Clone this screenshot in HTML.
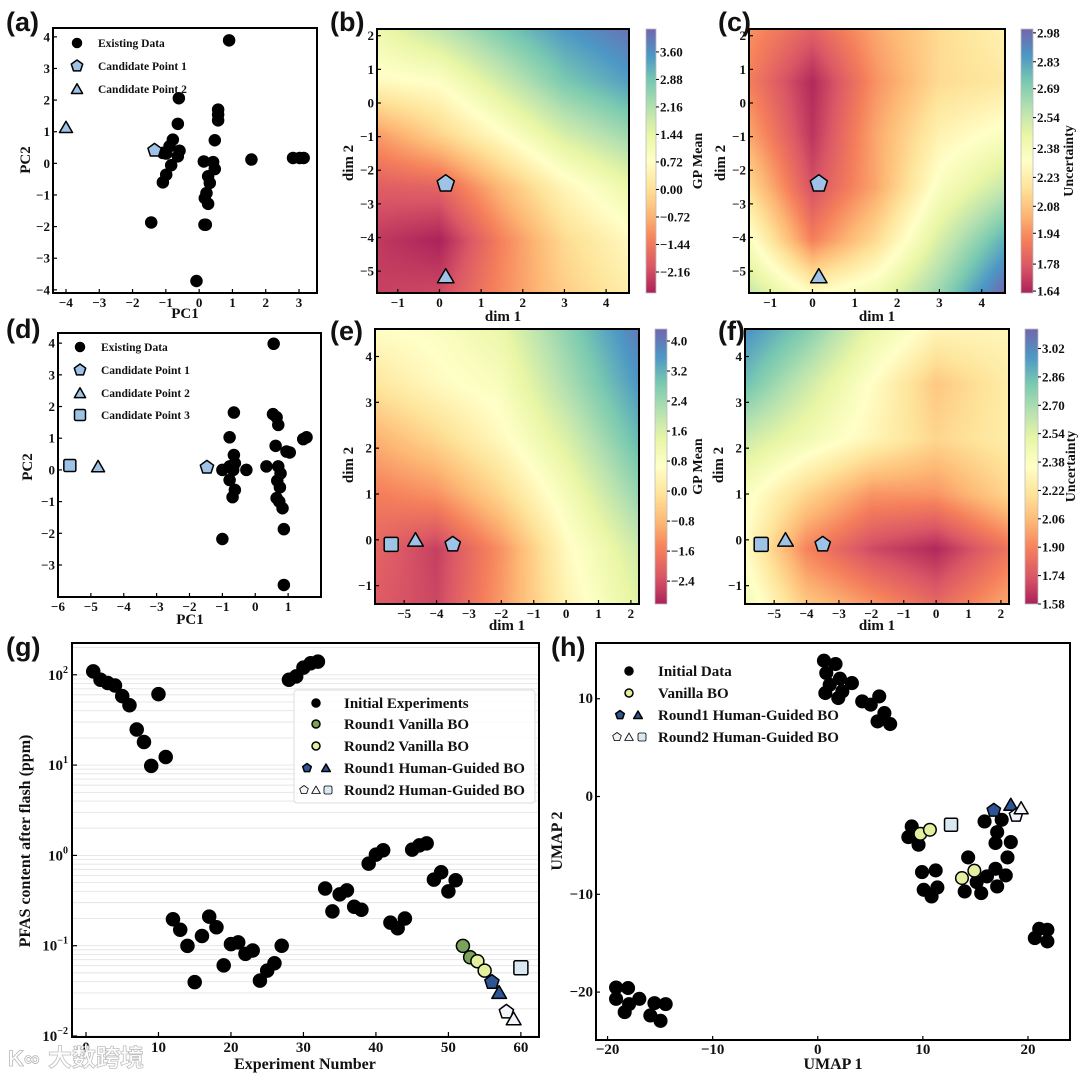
<!DOCTYPE html>
<html><head><meta charset="utf-8">
<style>
body{margin:0;background:#fff;width:1080px;height:1077px;overflow:hidden;position:relative}
canvas{position:absolute}
#fig{position:absolute;left:0;top:0}
text{font-family:"Liberation Serif",serif;font-weight:bold;fill:#111}
</style></head>
<body>
<svg id="fig" width="1080" height="1077"></svg>
<script>
// ---------- DATA ----------
const aPC1=[0.90,-0.61,-0.64,0.57,0.57,0.57,-0.79,-0.89,-0.59,-1.09,-0.99,-0.64,-0.84,-0.99,-1.09,-1.44,0.14,0.42,0.47,0.27,0.32,0.22,0.17,0.27,0.16,0.20,-0.08,0.47,1.57,2.82,3.02,3.14];
const aPC2=[3.89,2.06,1.25,1.70,1.54,1.36,0.75,0.54,0.40,0.33,0.31,0.22,-0.06,-0.36,-0.60,-1.87,0.06,0.04,-0.18,-0.41,-0.62,-0.94,-1.10,-1.28,-1.94,-1.94,-3.72,0.73,0.12,0.17,0.17,0.17];
const aCand1=[-1.34,0.41];
const aCand2=[-4.0,1.14];
const dPC1=[0.56,-0.65,-0.78,-0.65,-0.62,-0.78,-1.0,-0.67,-0.27,-0.78,-0.62,-0.69,0.34,0.54,0.65,0.70,0.62,0.70,0.77,0.67,0.75,0.65,0.73,0.83,0.87,0.87,-1.0,0.95,1.05,1.46,1.56];
const dPC2=[3.98,1.81,1.03,0.47,0.21,0.11,0,0,0,-0.32,-0.63,-0.86,0.11,1.76,1.66,1.42,0.76,0.11,-0.11,-0.34,-0.55,-0.89,-1.0,-1.21,-1.87,-3.63,-2.18,0.58,0.55,0.97,1.03];
const dCand1=[-1.47,0.08];
const dCand2=[-4.78,0.11];
const dCand3=[-5.64,0.14];
// heatmap grids
const bcGX=[-1.5,0,1.5,3,4.55];
const bcGY=[2.2,0.63,-0.94,-2.51,-4.08,-5.65];
const bMean=[[1.3,2.0,2.8,3.5,4.0],[0.6,0.8,1.8,2.8,3.4],[-1.0,-0.2,0.7,1.7,2.4],[-1.9,-1.8,-0.6,0.5,1.3],[-2.4,-2.7,-1.3,-0.1,0.6],[-2.3,-2.2,-1.2,-0.3,0.3]];
const cUnc=[[1.95,1.8,2.0,2.15,2.25],[1.9,1.65,1.95,2.15,2.2],[2.0,1.68,2.0,2.25,2.35],[2.15,1.75,2.0,2.35,2.55],[2.35,1.9,2.15,2.5,2.8],[2.55,2.3,2.4,2.65,3.0]];
const bcCand=[[0.15,-2.4],[0.15,-5.15]];
const efGX=[-5.9,-4,-2,0,2.25];
const efGY=[4.6,3.4,2.2,1.0,-0.2,-1.4];
const eMean=[[0.6,0.8,1.3,2.6,4.0],[0.0,0.5,0.9,2.2,3.6],[-0.9,-0.3,0.5,1.6,3.1],[-1.6,-1.3,-0.3,1.0,2.5],[-2.0,-2.6,-1.3,0.5,1.8],[-2.2,-2.5,-1.2,0.3,1.5]];
const fUnc=[[3.0,2.8,2.5,2.3,2.3],[2.85,2.6,2.35,2.1,2.25],[2.6,2.45,2.3,2.15,2.25],[2.4,2.15,1.95,1.95,2.15],[2.35,1.9,1.7,1.6,1.85],[2.45,2.1,1.95,1.8,2.0]];
const efCand=[[-3.5,-0.1],[-4.65,0.0],[-5.4,-0.1]];
const bTicks=[-2.16,-1.44,-0.72,0.00,0.72,1.44,2.16,2.88,3.60];
const cTicks=[1.64,1.78,1.94,2.08,2.23,2.38,2.54,2.69,2.83,2.98];
const eTicks=[-2.4,-1.6,-0.8,0.0,0.8,1.6,2.4,3.2,4.0];
const fTicks=[1.58,1.74,1.90,2.06,2.22,2.38,2.54,2.70,2.86,3.02];
// panel g
const gInitVal=[109,88,81,76,58,46,24.8,18,9.8,61,12.3,0.196,0.15,0.0995,0.0395,0.128,0.21,0.16,0.0605,0.104,0.109,0.0812,0.0886,0.041,0.053,0.064,0.1,88,96,120,134,140,0.43,0.24,0.37,0.41,0.27,0.25,0.81,1.02,1.14,0.18,0.156,0.2,1.16,1.29,1.36,0.54,0.65,0.4,0.53];
const gR1VanX=[52,53], gR1VanY=[0.0995,0.0745];
const gR2VanX=[54,55], gR2VanY=[0.0673,0.053];
const gR1HG=[[56,0.0395],[57,0.0304]];
const gR2HG=[[58,0.0185],[59,0.0155],[60,0.057]];
// panel h
const hX=[0.59,1.69,0.81,1.14,0.72,2.11,2.34,1.95,3.25,4.23,5.04,5.85,6.34,5.69,6.89,-19.19,-19.19,-18.05,-18.37,-17.95,-16.98,-15.93,-15.54,-14.96,-14.47,21.07,20.65,21.85,21.85,8.94,8.62,9.59,9.92,11.22,10.08,10.83,11.38,15.87,17.50,17.07,16.91,18.37,14.31,18.05,16.91,17.89,16.10,15.12,13.98,15.55,17.07];
const hY=[13.89,13.55,12.63,11.43,10.58,12.05,10.75,10.07,11.6,9.73,9.39,10.24,8.53,7.68,7.41,-19.53,-20.69,-19.59,-22.05,-21.23,-20.69,-22.39,-21.13,-22.94,-21.23,-13.53,-14.48,-13.63,-14.82,-3.06,-4.15,-4.93,-7.73,-7.56,-9.54,-10.22,-9.3,-2.55,-2.38,-3.64,-4.76,-4.66,-6.23,-6.23,-7.39,-8.07,-8.17,-8.75,-9.71,-9.88,-9.2];
const hVanX=[9.76,10.67,13.72,14.9], hVanY=[-3.81,-3.4,-8.34,-7.59];
const hR1=[[16.75,-1.42],[18.37,-0.84]];
const hR2=[[18.86,-1.93],[19.35,-1.18],[12.68,-2.89]];

// ---------- HELPERS ----------
const NS='http://www.w3.org/2000/svg';
const svg=document.getElementById('fig');
function add(tag,attrs,name,parent){
  const e=document.createElementNS(NS,tag);
  for(const k in attrs) e.setAttribute(k,attrs[k]);
  
  
  (parent||svg).appendChild(e);return e;
}
function txt(x,y,s,size,name,anchor,extra){
  const t=add('text',Object.assign({x:x,y:y,'font-size':size,'text-anchor':anchor||'middle'},extra||{}),name);
  t.textContent=s;return t;
}
function lin(d0,d1,r0,r1){return v=>r0+(v-d0)*(r1-r0)/(d1-d0);}
function fmt(v,d){const s=Math.abs(v).toFixed(d);return (v<0?'\u2212':'')+s;}
function panel(L,R,T,B,x0,x1,y0,y1){return {L,R,T,B,x0,x1,y0,y1,sx:lin(x0,x1,L,R),sy:lin(y0,y1,B,T)};}
function marker(shape,cx,cy,r,fill,name,sw){
  sw=sw||1.5;
  if(shape==='circle') return add('circle',{cx:cx,cy:cy,r:r,fill:fill,stroke:'#000','stroke-width':sw},name);
  if(shape==='square') return add('rect',{x:cx-r,y:cy-r,width:2*r,height:2*r,rx:1.5,fill:fill,stroke:'#000','stroke-width':sw},name);
  let n=shape==='pentagon'?5:3, pts=[], oy=shape==='triangle'?r*0.2:0;
  for(let k=0;k<n;k++){const a=-Math.PI/2+k*2*Math.PI/n;pts.push((cx+r*Math.cos(a)).toFixed(1)+','+(cy+oy+r*Math.sin(a)).toFixed(1));}
  return add('polygon',{points:pts.join(' '),fill:fill,stroke:'#000','stroke-width':sw,'stroke-linejoin':'round'},name);
}
function frame(p,name){add('rect',{x:p.L,y:p.T,width:p.R-p.L,height:p.B-p.T,fill:'none',stroke:'#000','stroke-width':2},name);}
function axes(p,xt,yt,fs,xd,yd,key){
  xt.forEach(v=>{const x=p.sx(v);
    add('line',{x1:x,x2:x,y1:p.B,y2:p.B-4,stroke:'#000','stroke-width':1.2},key+'-x-tick');
    txt(x,p.B+14,fmt(v,xd),fs,key+'-x-tick-label');});
  yt.forEach(v=>{const y=p.sy(v);
    add('line',{x1:p.L,x2:p.L+4,y1:y,y2:y,stroke:'#000','stroke-width':1.2},key+'-y-tick');
    txt(p.L-3,y+4.5,fmt(v,yd),fs,key+'-y-tick-label','end');});
}
function vlabel(x,y,s,size,name){txt(x,y,s,size,name,'middle',{transform:'rotate(-90 '+x+' '+y+')'});}
function plabel(x,y,s,name){txt(x,y,s,27,name,'start',{style:'font-family:"Liberation Sans",sans-serif'});}

const STOPS=[[158,1,66],[213,62,79],[244,109,67],[253,174,97],[254,224,139],[255,255,191],[230,245,152],[171,221,164],[102,194,165],[50,136,189],[94,79,162]];
function cmap(t){
  t=Math.max(0,Math.min(1,t));const f=t*10,i=Math.min(9,Math.floor(f)),u=f-i;
  const a=STOPS[i],b=STOPS[i+1],al=0.87;
  return [0,1,2].map(k=>Math.round(al*(a[k]+(b[k]-a[k])*u)+(1-al)*255));
}
function bil(gx,gy,Z,x,y){
  let i=0;while(i<gx.length-2&&x>gx[i+1])i++;
  let j=0;while(j<gy.length-2&&y<gy[j+1])j++;
  let u=(x-gx[i])/(gx[i+1]-gx[i]),w=(gy[j]-y)/(gy[j]-gy[j+1]);
  u=Math.max(0,Math.min(1,u));w=Math.max(0,Math.min(1,w));
  return Z[j][i]*(1-u)*(1-w)+Z[j][i+1]*u*(1-w)+Z[j+1][i]*(1-u)*w+Z[j+1][i+1]*u*w;
}
function heat(p,gx,gy,Z,vmin,vmax,name){
  const c=document.createElement('canvas');const w=p.R-p.L,h=p.B-p.T;
  c.width=w;c.height=h;c.style.left=p.L+'px';c.style.top=p.T+'px';
  
  
  document.body.insertBefore(c,svg);
  const ctx=c.getContext('2d'),im=ctx.createImageData(w,h);
  for(let py=0;py<h;py++)for(let px=0;px<w;px++){
    const x=p.x0+(px+0.5)/w*(p.x1-p.x0),y=p.y1-(py+0.5)/h*(p.y1-p.y0);
    const col=cmap((bil(gx,gy,Z,x,y)-vmin)/(vmax-vmin));const o=(py*w+px)*4;
    im.data[o]=col[0];im.data[o+1]=col[1];im.data[o+2]=col[2];im.data[o+3]=255;}
  ctx.putImageData(im,0,0);
}
function cbar(L,R,T,B,vmin,vmax,ticks,dec,label,lx,key){
  const c=document.createElement('canvas');const w=R-L,h=B-T;
  c.width=w;c.height=h;c.style.left=L+'px';c.style.top=T+'px';
  
  
  document.body.insertBefore(c,svg);
  const ctx=c.getContext('2d');
  for(let y=0;y<h;y++){const col=cmap(1-(y+0.5)/h);ctx.fillStyle='rgb('+col.join(',')+')';ctx.fillRect(0,y,w,1);}
  add('rect',{x:L,y:T,width:w,height:h,fill:'none',stroke:'#bbb','stroke-width':0.8},key+'-colorbar-border');
  const sy=lin(vmin,vmax,B,T);
  ticks.forEach(v=>{const y=sy(v);
    add('line',{x1:R,x2:R+3,y1:y,y2:y,stroke:'#000','stroke-width':1},key+'-colorbar-tick');
    txt(R+4,y+4.5,fmt(v,dec),13,key+'-colorbar-tick-label','start');});
  vlabel(lx,(T+B)/2,label,14,key+'-colorbar-title');
}
function range(a,b,s){const r=[];for(let v=a;v<=b+1e-9;v+=s)r.push(Math.round(v*100)/100);return r;}

// ---------- PANEL A ----------
const pa=panel(53,317,28,293,-4.39,3.54,-4.1,4.28);
plabel(6,31,'(a)','panel-label-a');
frame(pa,'panel-a-frame');
axes(pa,range(-4,3,1),range(-4,4,1),13,0,0,'panel-a');
txt(185,318,'PC1',15,'panel-a-x-axis-title');vlabel(30,160,'PC2',15,'panel-a-y-axis-title');
aPC1.forEach((v,i)=>marker('circle',pa.sx(v),pa.sy(aPC2[i]),5.5,'#000','existing-data-point'));
marker('pentagon',pa.sx(aCand1[0]),pa.sy(aCand1[1]),7,'#9fc3e6','candidate-point-1');
marker('triangle',pa.sx(aCand2[0]),pa.sy(aCand2[1]),7.5,'#9fc3e6','candidate-point-2');
marker('circle',77,43,4.5,'#000','legend-existing-marker');txt(98,47,'Existing Data',11.5,'legend-existing-label','start');
marker('pentagon',77,66,6,'#9fc3e6','legend-cand1-marker');txt(98,70,'Candidate Point 1',11.5,'legend-cand1-label','start');
marker('triangle',77,89,6.5,'#9fc3e6','legend-cand2-marker');txt(98,93,'Candidate Point 2',11.5,'legend-cand2-label','start');

// ---------- PANEL B / C ----------
const pb=panel(377,629,29,293,-1.5,4.55,-5.65,2.2);
const pc=panel(749,1005,29,293,-1.5,4.55,-5.65,2.2);
heat(pb,bcGX,bcGY,bMean,-2.71,4.2,'gp-mean-heatmap-b');
heat(pc,bcGX,bcGY,cUnc,1.63,3.0,'uncertainty-heatmap-c');
plabel(330,31,'(b)','panel-label-b');plabel(718,31,'(c)','panel-label-c');
[[pb,'panel-b'],[pc,'panel-c']].forEach(([p,k])=>{
  frame(p,k+'-frame');axes(p,range(-1,4,1),range(-5,2,1),13,0,0,k);
  txt((p.L+p.R)/2,321,'dim 1',15,k+'-x-axis-title');vlabel(p.L-24,163,'dim 2',15,k+'-y-axis-title');
  marker('pentagon',p.sx(bcCand[0][0]),p.sy(bcCand[0][1]),9,'#9fc3e6',k+'-candidate-1');
  marker('triangle',p.sx(bcCand[1][0]),p.sy(bcCand[1][1]),9.5,'#9fc3e6',k+'-candidate-2');
});
cbar(646,656,29,293,-2.71,4.2,bTicks,2,'GP Mean',702,'panel-b');
cbar(1021,1033,29,293,1.63,3.0,cTicks,2,'Uncertainty',1073,'panel-c');

// ---------- PANEL D ----------
const pd=panel(58,321,333,597,-6,2.0,-4.01,4.32);
plabel(6,338,'(d)','panel-label-d');
frame(pd,'panel-d-frame');
axes(pd,range(-6,1,1),range(-3,4,1),13,0,0,'panel-d');
txt(190,624,'PC1',15,'panel-d-x-axis-title');vlabel(32,467,'PC2',15,'panel-d-y-axis-title');
dPC1.forEach((v,i)=>marker('circle',pd.sx(v),pd.sy(dPC2[i]),5.5,'#000','existing-data-point'));
marker('pentagon',pd.sx(dCand1[0]),pd.sy(dCand1[1]),7,'#9fc3e6','candidate-point-1');
marker('triangle',pd.sx(dCand2[0]),pd.sy(dCand2[1]),7.5,'#9fc3e6','candidate-point-2');
marker('square',pd.sx(dCand3[0]),pd.sy(dCand3[1]),6,'#9fc3e6','candidate-point-3');
marker('circle',80,347,4.5,'#000','legend-existing-marker');txt(101,351,'Existing Data',11.5,'legend-existing-label','start');
marker('pentagon',80,370,6,'#9fc3e6','legend-cand1-marker');txt(101,374,'Candidate Point 1',11.5,'legend-cand1-label','start');
marker('triangle',80,393,6.5,'#9fc3e6','legend-cand2-marker');txt(101,397,'Candidate Point 2',11.5,'legend-cand2-label','start');
marker('square',80,415,5.5,'#9fc3e6','legend-cand3-marker');txt(101,419,'Candidate Point 3',11.5,'legend-cand3-label','start');

// ---------- PANEL E / F ----------
const pe=panel(375,639,329,604,-5.9,2.25,-1.4,4.6);
const pf=panel(745,1009,329,604,-5.9,2.25,-1.4,4.6);
heat(pe,efGX,efGY,eMean,-3.01,4.32,'gp-mean-heatmap-e');
heat(pf,efGX,efGY,fUnc,1.58,3.13,'uncertainty-heatmap-f');
plabel(330,340,'(e)','panel-label-e');plabel(718,340,'(f)','panel-label-f');
[[pe,'panel-e'],[pf,'panel-f']].forEach(([p,k])=>{
  frame(p,k+'-frame');axes(p,range(-5,2,1),range(-1,4,1),13,0,0,k);
  txt((p.L+p.R)/2,630,'dim 1',15,k+'-x-axis-title');vlabel(p.L-22,465,'dim 2',15,k+'-y-axis-title');
  marker('pentagon',p.sx(efCand[0][0]),p.sy(efCand[0][1]),8,'#9fc3e6',k+'-candidate-1');
  marker('triangle',p.sx(efCand[1][0]),p.sy(efCand[1][1]),9,'#9fc3e6',k+'-candidate-2');
  marker('square',p.sx(efCand[2][0]),p.sy(efCand[2][1]),7,'#9fc3e6',k+'-candidate-3');
});
cbar(655,667,329,604,-3.01,4.32,eTicks,1,'GP Mean',702,'panel-e');
cbar(1025,1038,329,604,1.58,3.13,fTicks,2,'Uncertainty',1075,'panel-f');

// ---------- PANEL G ----------
const pg={L:72,R:539,T:643,B:1037};
const gx=lin(-1.93,62.5,pg.L,pg.R);
const lmin=Math.log10(0.00975),lmax=2.352;
const gy=v=>pg.B-(Math.log10(v)-lmin)/(lmax-lmin)*(pg.B-pg.T);
plabel(6,656,'(g)','panel-label-g');
for(let d=-2;d<=2;d++)for(let m=1;m<=9;m++){const v=m*Math.pow(10,d);if(v>0.00975&&v<Math.pow(10,lmax)){
  add('line',{x1:pg.L,x2:pg.R,y1:gy(v),y2:gy(v),stroke:'#e4e4e4','stroke-width':0.9},'panel-g-gridline');}}
add('rect',{x:pg.L,y:pg.T,width:pg.R-pg.L,height:pg.B-pg.T,fill:'none',stroke:'#000','stroke-width':2},'panel-g-frame');
range(0,60,10).forEach(v=>{const x=gx(v);
  add('line',{x1:x,x2:x,y1:pg.B,y2:pg.B-5,stroke:'#000','stroke-width':1.2},'panel-g-x-tick');
  txt(x,pg.B+15,String(v),15,'panel-g-x-tick-label');});
['\u22122','\u22121','0','1','2'].forEach((e,i)=>{const y=gy(Math.pow(10,i-2));
  add('line',{x1:pg.L,x2:pg.L+5,y1:y,y2:y,stroke:'#000','stroke-width':1.2},'panel-g-y-tick');
  const t=txt(pg.L-4,y+5,'10',15,'panel-g-y-tick-label','end');
  const s=document.createElementNS(NS,'tspan');s.setAttribute('dy','-7');s.setAttribute('font-size','10');s.textContent=e;t.appendChild(s);});
txt(305,1069,'Experiment Number',16,'panel-g-x-axis-title');
vlabel(30,841,'PFAS content after flash (ppm)',16,'panel-g-y-axis-title');
gInitVal.forEach((v,i)=>marker('circle',gx(i+1),gy(v),6.5,'#000','initial-experiment-point'));
gR1VanX.forEach((x,i)=>marker('circle',gx(x),gy(gR1VanY[i]),6.5,'#7aa35a','round1-vanilla-point'));
gR2VanX.forEach((x,i)=>marker('circle',gx(x),gy(gR2VanY[i]),6.5,'#e4ef9f','round2-vanilla-point'));
marker('pentagon',gx(gR1HG[0][0]),gy(gR1HG[0][1]),7.5,'#2d5596','round1-hg-pentagon');
marker('triangle',gx(gR1HG[1][0]),gy(gR1HG[1][1]),8.5,'#2d5596','round1-hg-triangle');
marker('pentagon',gx(gR2HG[0][0]),gy(gR2HG[0][1]),7.5,'#f2f5fa','round2-hg-pentagon');
marker('triangle',gx(gR2HG[1][0]),gy(gR2HG[1][1]),8.5,'#f2f5fa','round2-hg-triangle');
marker('square',gx(gR2HG[2][0]),gy(gR2HG[2][1]),7,'#d8e9f2','round2-hg-square');
add('rect',{x:294,y:690,width:241,height:113,rx:3,fill:'#fff','fill-opacity':0.85,stroke:'#ddd','stroke-width':1},'panel-g-legend-box');
marker('circle',316,703,4,'#000','legend-initial-marker',0);txt(344,708,'Initial Experiments',15,'legend-initial-label','start');
marker('circle',316,724,4,'#7aa35a','legend-r1-vanilla-marker',0);txt(344,729,'Round1 Vanilla BO',15,'legend-r1-vanilla-label','start');
marker('circle',316,746,4,'#e4ef9f','legend-r2-vanilla-marker',0);txt(344,751,'Round2 Vanilla BO',15,'legend-r2-vanilla-label','start');
marker('pentagon',307,768,4.5,'#2d5596','legend-r1-hg-pentagon',0);marker('triangle',326,768,5,'#2d5596','legend-r1-hg-triangle',0);
txt(344,773,'Round1 Human-Guided BO',15,'legend-r1-hg-label','start');
marker('pentagon',304,790,4.5,'#f2f5fa','legend-r2-hg-pentagon',0.8);marker('triangle',316,790,5,'#f2f5fa','legend-r2-hg-triangle',0.8);marker('square',328,790,4,'#d8e9f2','legend-r2-hg-square',0.8);
txt(344,795,'Round2 Human-Guided BO',15,'legend-r2-hg-label','start');
txt(48,1066,'\u5927\u6570\u8de8\u5883',24,'watermark','start',{style:'font-family:"Liberation Sans","Noto Sans CJK SC",sans-serif;fill:#fff;stroke:#b8b8b8;stroke-width:0.8;opacity:0.9'});
txt(8,1066,'K\u221e',22,'watermark-logo','start',{style:'font-family:"Liberation Sans",sans-serif;fill:#fff;stroke:#b8b8b8;stroke-width:0.8'});

// ---------- PANEL H ----------
const ph=panel(596,1070,643,1040,-21.1,24,-24.9,15.7);
plabel(551,656,'(h)','panel-label-h');
frame(ph,'panel-h-frame');
axes(ph,range(-20,20,10),range(-20,10,10),15,0,0,'panel-h');
txt(833,1069,'UMAP 1',16,'panel-h-x-axis-title');vlabel(562,841,'UMAP 2',16,'panel-h-y-axis-title');
hX.forEach((v,i)=>marker('circle',ph.sx(v),ph.sy(hY[i]),6.3,'#000','initial-data-point'));
hVanX.forEach((v,i)=>marker('circle',ph.sx(v),ph.sy(hVanY[i]),6.3,'#e4ef9f','vanilla-bo-point'));
marker('pentagon',ph.sx(hR1[0][0]),ph.sy(hR1[0][1]),7,'#2d5596','round1-hg-pentagon');
marker('triangle',ph.sx(hR1[1][0]),ph.sy(hR1[1][1]),8,'#2d5596','round1-hg-triangle');
marker('pentagon',ph.sx(hR2[0][0]),ph.sy(hR2[0][1]),7,'#f2f5fa','round2-hg-pentagon');
marker('triangle',ph.sx(hR2[1][0]),ph.sy(hR2[1][1]),8,'#f2f5fa','round2-hg-triangle');
marker('square',ph.sx(hR2[2][0]),ph.sy(hR2[2][1]),6.5,'#d8e9f2','round2-hg-square');
marker('circle',629,671,4,'#000','legend-initial-marker',0);txt(658,676,'Initial Data',15,'legend-initial-label','start');
marker('circle',629,693,4,'#e4ef9f','legend-vanilla-marker',0);txt(658,698,'Vanilla BO',15,'legend-vanilla-label','start');
marker('pentagon',620,715,4.5,'#2d5596','legend-r1-hg-pentagon',0);marker('triangle',638,715,5,'#2d5596','legend-r1-hg-triangle',0);
txt(658,720,'Round1 Human-Guided BO',15,'legend-r1-hg-label','start');
marker('pentagon',617,737,4.5,'#f2f5fa','legend-r2-hg-pentagon',0.8);marker('triangle',629,737,5,'#f2f5fa','legend-r2-hg-triangle',0.8);marker('square',642,737,4,'#d8e9f2','legend-r2-hg-square',0.8);
txt(658,742,'Round2 Human-Guided BO',15,'legend-r2-hg-label','start');
</script>
</body></html>
